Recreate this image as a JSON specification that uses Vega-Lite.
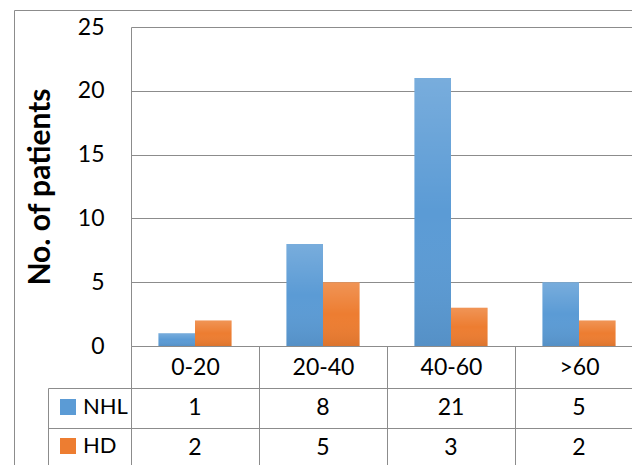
{
  "$schema": "https://vega.github.io/schema/vega-lite/v6.json",
  "width": 501,
  "height": 319,
  "autosize": "none",
  "padding": {"left": 131, "top": 27, "right": 0, "bottom": 119},
  "background": "white",
  "config": {
    "font": "Lato",
    "view": {"stroke": null},
    "axis": {"labelFont": "Lato", "titleFont": "Lato", "labelColor": "#000000", "titleColor": "#000000"}
  },
  "data": {
    "values": [
      {"cat": "0-20", "series": "NHL", "value": 1},
      {"cat": "20-40", "series": "NHL", "value": 8},
      {"cat": "40-60", "series": "NHL", "value": 21},
      {"cat": ">60", "series": "NHL", "value": 5},
      {"cat": "0-20", "series": "HD", "value": 2},
      {"cat": "20-40", "series": "HD", "value": 5},
      {"cat": "40-60", "series": "HD", "value": 3},
      {"cat": ">60", "series": "HD", "value": 2}
    ]
  },
  "layer": [
    {
      "layer": [
        {
          "mark": {"type": "bar"},
          "encoding": {
            "x": {
              "field": "cat", "type": "nominal", "sort": ["0-20", "20-40", "40-60", ">60"],
              "scale": {"range": [0, 512], "paddingInner": 0, "paddingOuter": 0},
              "axis": {
                "title": null, "orient": "bottom", "labelAngle": 0, "labelFontSize": 23,
                "labelBaseline": "middle", "tickBand": "extent", "ticks": true, "tickSize": 122,
                "tickColor": "#8c8c8c", "domain": true, "domainColor": "#8c8c8c",
                "labelPadding": -101, "grid": false
              }
            },
            "xOffset": {
              "field": "series", "type": "nominal", "sort": ["NHL", "HD"],
              "scale": {"domain": ["NHL", "HD"], "paddingInner": 0, "paddingOuter": 0.75}
            },
            "y": {
              "field": "value", "type": "quantitative",
              "scale": {"domain": [0, 25], "nice": false},
              "axis": {
                "values": [0, 5, 10, 15, 20, 25], "grid": true, "gridColor": "#8c8c8c",
                "domain": true, "domainColor": "#8c8c8c", "ticks": false,
                "labelPadding": 27, "labelFontSize": 23,
                "title": "No. of patients", "titleFontSize": 30, "titleFontWeight": "bold",
                "titlePadding": 22
              }
            },
            "color": {
              "field": "series", "type": "nominal",
              "scale": {"domain": ["NHL", "HD"], "range": ["#5b9bd5", "#ed7d31"]},
              "legend": {
                "orient": "none", "legendX": -74, "legendY": 369, "title": null,
                "symbolType": "square", "symbolSize": 256, "symbolStrokeWidth": 0,
                "labelFontSize": 22, "labelOffset": 4, "rowPadding": 17, "padding": 0,
                "labelColor": "#000000", "labelFont": "Lato"
              }
            }
          }
        },
        {
          "mark": {
            "type": "bar",
            "color": {
              "gradient": "linear", "x1": 0, "y1": 0, "x2": 0, "y2": 1,
              "stops": [
                {"offset": 0, "color": "rgba(255,255,255,0.18)"},
                {"offset": 0.5, "color": "rgba(255,255,255,0)"},
                {"offset": 1, "color": "rgba(0,0,0,0.07)"}
              ]
            }
          },
          "encoding": {
            "x": {"field": "cat", "type": "nominal", "sort": ["0-20", "20-40", "40-60", ">60"]},
            "xOffset": {
              "field": "series", "type": "nominal", "sort": ["NHL", "HD"],
              "scale": {"domain": ["NHL", "HD"], "paddingInner": 0, "paddingOuter": 0.75}
            },
            "y": {"field": "value", "type": "quantitative", "scale": {"domain": [0, 25], "nice": false}, "axis": null}
          }
        },
        {
          "mark": {"type": "text", "fontSize": 23, "baseline": "middle", "color": "#000000"},
          "encoding": {
            "x": {"field": "cat", "type": "nominal", "sort": ["0-20", "20-40", "40-60", ">60"]},
            "y": {
              "field": "series", "type": "nominal", "sort": ["NHL", "HD"],
              "scale": {"domain": ["NHL", "HD"], "range": [361, 441], "paddingInner": 0, "paddingOuter": 0},
              "axis": {
                "orient": "left", "offset": 83, "title": null, "labels": false,
                "domain": true, "domainColor": "#8c8c8c",
                "tickBand": "extent", "ticks": true, "tickSize": -83, "tickColor": "#8c8c8c",
                "grid": true, "gridColor": "#8c8c8c"
              }
            },
            "text": {"field": "value", "type": "quantitative"}
          }
        }
      ],
      "resolve": {"scale": {"y": "independent"}, "axis": {"y": "independent"}}
    },
    {
      "mark": {"type": "point", "opacity": 0},
      "encoding": {
        "x": {
          "field": "cat", "type": "nominal",
          "scale": {"range": [-117, 512]},
          "axis": {"orient": "top", "offset": 17, "domain": true, "domainColor": "#8c8c8c", "ticks": false, "labels": false, "grid": false, "title": null}
        },
        "y": {
          "field": "value", "type": "quantitative",
          "scale": {"domain": [0, 25], "range": [440, -17]},
          "axis": {"orient": "left", "offset": 117, "domain": true, "domainColor": "#8c8c8c", "ticks": false, "labels": false, "grid": false, "title": null}
        }
      }
    }
  ],
  "resolve": {"scale": {"x": "independent", "y": "independent"}, "axis": {"x": "independent", "y": "independent"}}
}
